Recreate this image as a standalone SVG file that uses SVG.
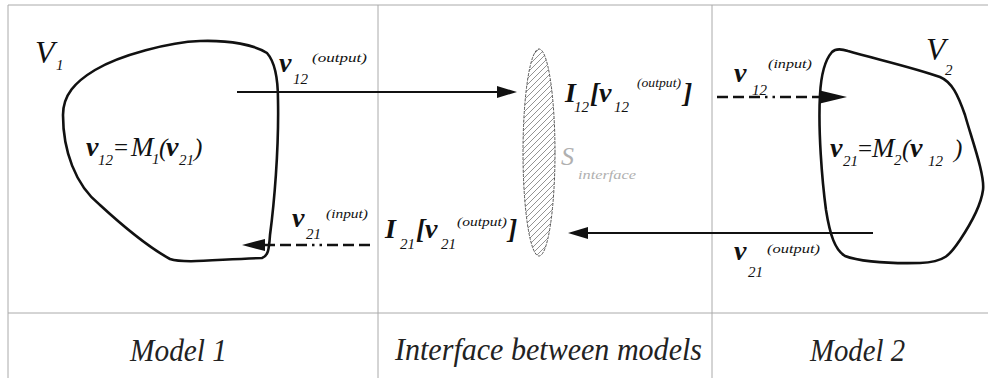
<svg xmlns="http://www.w3.org/2000/svg" width="988" height="378" viewBox="0 0 988 378">
<style>
text{font-family:"Liberation Serif","Times New Roman",serif;font-style:italic;fill:#111}
.b{font-weight:bold;font-size:28px}
.m{font-size:27px}
.s{font-size:15px}
.sup{font-size:13px}
.p{font-size:25px}
.cap{font-size:32px;fill:#222}
.g{fill:#b0b0b0}
.frame{stroke:#aaa;stroke-width:1;fill:none}
.blob{fill:none;stroke:#111;stroke-width:2.6;stroke-linejoin:round}
.solid{stroke:#111;stroke-width:2;fill:none}
.dash{stroke:#111;stroke-width:2.5;fill:none;stroke-dasharray:11 5 11 5 11 5 2.5 5 2.5 5}
.head{fill:#111}
</style>
<defs>
<pattern id="hatch" patternUnits="userSpaceOnUse" width="6" height="6">
<path d="M0,6 L6,0 M-1,1 L1,-1 M5,7 L7,5" stroke="#777" stroke-width="0.8"/>
</pattern>
</defs>
<g id="frame">
<line class="frame" x1="8" y1="5" x2="988" y2="5" stroke="#888"/>
<line class="frame" x1="8" y1="5" x2="8" y2="378"/>
<line class="frame" x1="378" y1="5" x2="378" y2="378"/>
<line class="frame" x1="712" y1="5" x2="712" y2="378"/>
<line class="frame" x1="8" y1="313" x2="988" y2="313"/>
</g>
<g id="model1">
<path class="blob" d="M 267,53 C 255,45 230,40 200,41 C 170,42 120,55 95,70 C 75,82 63,95 63,115 C 63,150 75,185 100,205 C 125,228 150,248 170,259 C 185,264 220,259 262,258 C 268,256 269,250 270,235 C 274,205 279,150 278,100 C 278,80 275,62 267,53 Z"/>
<text x="35" y="63" style="font-size:32px">V</text>
<text class="s" x="56" y="70">1</text>
<text class="b" x="86" y="156">v</text>
<text class="s" x="98" y="165">12</text>
<text x="114" y="156" style="font-size:25px;font-style:normal">=</text>
<text class="m" x="131" y="156">M</text>
<text class="s" x="152" y="164">1</text>
<text class="p" x="159" y="156">(</text>
<text class="b" x="166" y="156">v</text>
<text class="s" x="179" y="165">21</text>
<text class="p" x="194" y="156">)</text>
<text x="130" y="361" class="cap" textLength="97" lengthAdjust="spacingAndGlyphs">Model 1</text>
</g>
<g id="interface">
<ellipse cx="539" cy="152.5" rx="16" ry="103.5" fill="url(#hatch)" stroke="#555" stroke-width="1" stroke-dasharray="3 1.2"/>
<text x="561" y="165" class="g" style="font-size:26px">S</text>
<text x="578" y="179" class="g sup" textLength="58" lengthAdjust="spacingAndGlyphs">interface</text>
<text x="395" y="360" class="cap" textLength="307" lengthAdjust="spacingAndGlyphs">Interface between models</text>
</g>
<g id="model2">
<path class="blob" d="M 832,52 C 836,48 842,49 848,51 C 880,60 915,68 940,77 C 952,82 958,95 965,115 C 972,140 985,175 983,190 C 981,205 970,225 960,240 C 950,255 945,262 920,263 C 880,264 855,260 845,256 C 835,250 830,235 826,210 C 822,180 818,130 820,95 C 821,75 825,60 832,52 Z"/>
<text x="926" y="60" style="font-size:32px">V</text>
<text class="s" x="945" y="75">2</text>
<text class="b" x="830" y="157">v</text>
<text class="s" x="843" y="166">21</text>
<text x="858" y="157" style="font-size:25px;font-style:normal">=</text>
<text class="m" x="872" y="157">M</text>
<text class="s" x="894" y="165">2</text>
<text class="p" x="902" y="157">(</text>
<text class="b" x="910" y="157">v</text>
<text class="s" x="928" y="166">12</text>
<text class="p" x="954" y="157">)</text>
<text x="810" y="361" class="cap" textLength="95" lengthAdjust="spacingAndGlyphs">Model 2</text>
</g>
<g id="connectors">
<line class="solid" x1="237" y1="92" x2="500" y2="92"/>
<polygon class="head" points="517,92 497,86 497,98"/>
<line class="solid" x1="873" y1="233" x2="585" y2="233"/>
<polygon class="head" points="568,233 588,227 588,239"/>
<line class="dash" x1="717" y1="97" x2="822" y2="97"/>
<polygon class="head" points="847,97 820,90.5 820,103.5"/>
<line class="dash" x1="370" y1="245" x2="264" y2="245"/>
<polygon class="head" points="242,245 265,239 265,251"/>
</g>
<g id="labels">
<text class="b" x="279" y="72">v</text>
<text class="s" x="293" y="84">12</text>
<text class="sup" x="312" y="62" textLength="55" lengthAdjust="spacingAndGlyphs">(output)</text>
<text class="b" x="292" y="227">v</text>
<text class="s" x="306" y="239">21</text>
<text class="sup" x="326" y="218" textLength="42" lengthAdjust="spacingAndGlyphs">(input)</text>
<text class="b" x="565" y="102">I</text>
<text class="s" x="574" y="112">12</text>
<text class="b" x="590" y="102">[</text>
<text class="b" x="599" y="102">v</text>
<text class="s" x="614" y="112">12</text>
<text class="sup" x="637" y="87" textLength="44" lengthAdjust="spacingAndGlyphs">(output)</text>
<text class="b" x="683" y="102">]</text>
<text class="b" x="385" y="238">I</text>
<text class="s" x="400" y="249">21</text>
<text class="b" x="416" y="238">[</text>
<text class="b" x="425" y="238">v</text>
<text class="s" x="441" y="249">21</text>
<text class="sup" x="457" y="226" textLength="50" lengthAdjust="spacingAndGlyphs">(output)</text>
<text class="b" x="508" y="238">]</text>
<text class="b" x="734" y="82">v</text>
<text class="s" x="752" y="95">12</text>
<text class="sup" x="768" y="68" textLength="44" lengthAdjust="spacingAndGlyphs">(input)</text>
<text class="b" x="734" y="260">v</text>
<text class="s" x="748" y="277">21</text>
<text class="sup" x="767" y="253" textLength="53" lengthAdjust="spacingAndGlyphs">(output)</text>
</g>
</svg>
